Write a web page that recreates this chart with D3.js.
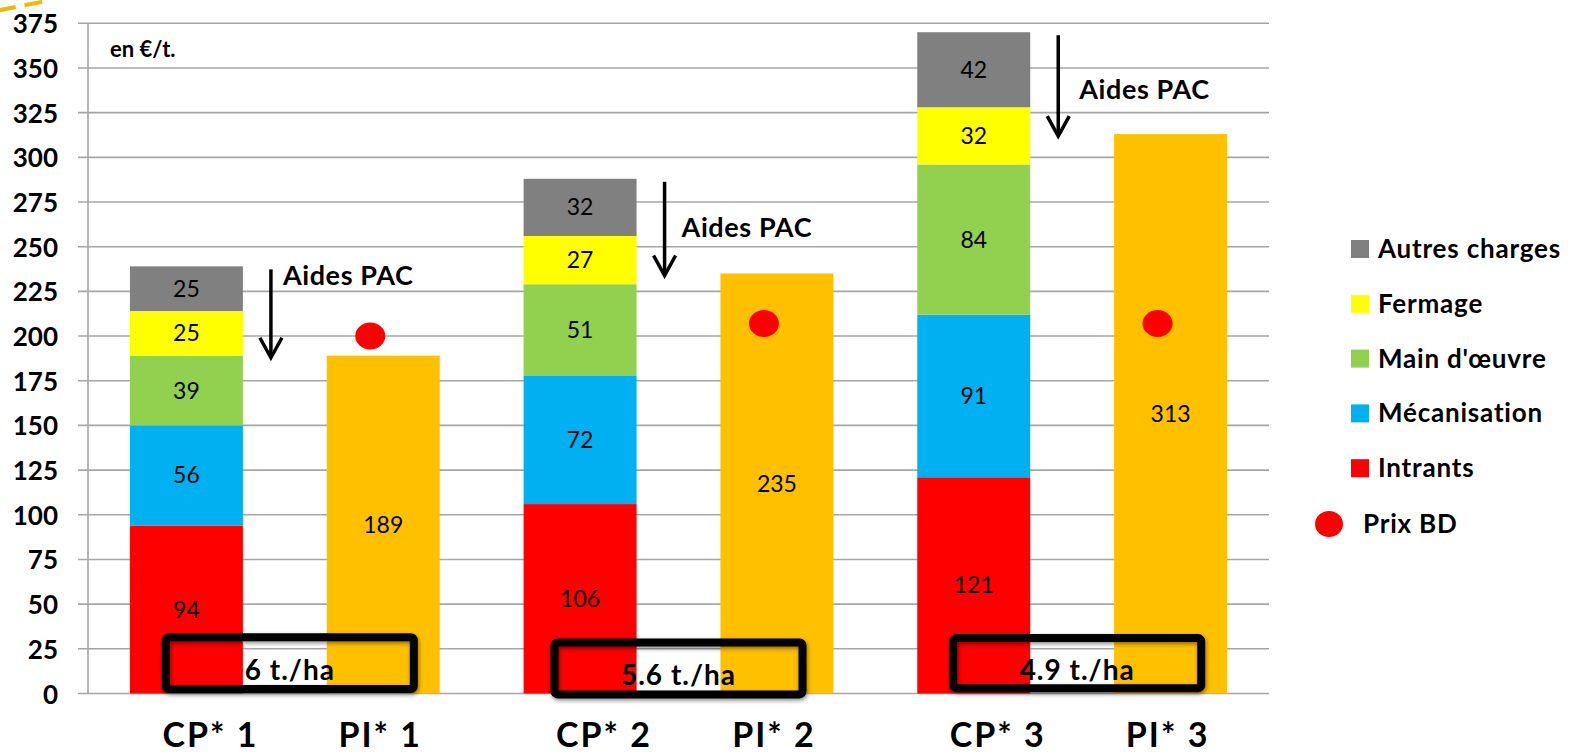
<!DOCTYPE html>
<html>
<head>
<meta charset="utf-8">
<script src="https://cdn.jsdelivr.net/npm/d3@7"></script>
<style>
  html, body { margin: 0; padding: 0; background: #fff; }
  svg { display: block; }
  text { font-family: Lato, "Open Sans", sans-serif; }
</style>
</head>
<body>
<svg id="chart" width="1577" height="755"></svg>
<script>
// ---------- data ----------
const categories = ["CP* 1", "PI* 1", "CP* 2", "PI* 2", "CP* 3", "PI* 3"];
const cpCategories = ["CP* 1", "CP* 2", "CP* 3"];
const piCategories = ["PI* 1", "PI* 2", "PI* 3"];
const seriesNames = ["Intrants", "Mécanisation", "Main d'œuvre", "Fermage", "Autres charges"];
const intrants     = [94, 106, 121];
const mecanisation = [56, 72, 91];
const mainOeuvre   = [39, 51, 84];
const fermage      = [25, 27, 32];
const autresCharges = [25, 32, 42];
const piValues     = [189, 235, 313];
const prixBD       = [200, 207, 207];
const yieldLabels  = ["6 t./ha", "5.6 t./ha", "4.9 t./ha"];
const yTicks       = [0, 25, 50, 75, 100, 125, 150, 175, 200, 225, 250, 275, 300, 325, 350, 375];
const unitLabel    = "en €/t.";
const aidesLabel   = "Aides PAC";
const prixLabel    = "Prix BD";

// ---------- style ----------
const colors = {
  "Intrants": "#ff0000",
  "Mécanisation": "#00b0f0",
  "Main d'œuvre": "#92d050",
  "Fermage": "#ffff00",
  "Autres charges": "#808080"
};
const piColor = "#ffc000";
const dotColor = "#ff0000";
const gridColor = "#a6a6a6";

const svg = d3.select("#chart");

const x = d3.scaleBand().domain(categories).range([88, 1269]).paddingInner(0.426).paddingOuter(0.213);
const y = d3.scaleLinear().domain([0, 375]).range([693.5, 23.3]);

// decorative dashed selection mark (top-left)
svg.append("path")
  .attr("d", "M-2,10.5 L44,1.5")
  .attr("stroke", "#f2b700").attr("stroke-width", 4)
  .attr("stroke-dasharray", "18,9").attr("fill", "none");

// gridlines
svg.append("g").selectAll("line").data(yTicks).join("line")
  .attr("x1", 78).attr("x2", 1269)
  .attr("y1", d => y(d)).attr("y2", d => y(d))
  .attr("stroke", gridColor).attr("stroke-width", 1.6);

// y axis line
svg.append("line").attr("x1", 88).attr("x2", 88).attr("y1", y(375)).attr("y2", y(0))
  .attr("stroke", gridColor).attr("stroke-width", 1.6);

// y tick labels
svg.append("g").selectAll("text").data(yTicks).join("text")
  .attr("x", 58).attr("y", d => y(d) + 10)
  .attr("text-anchor", "end")
  .attr("font-weight", "bold").attr("font-size", 26)
  .text(d => d);

// stacked data
const stackRows = cpCategories.map((c, i) => ({
  cat: c,
  "Intrants": intrants[i],
  "Mécanisation": mecanisation[i],
  "Main d'œuvre": mainOeuvre[i],
  "Fermage": fermage[i],
  "Autres charges": autresCharges[i]
}));
const stacked = d3.stack().keys(seriesNames)(stackRows);

const gBars = svg.append("g");
stacked.forEach(layer => {
  gBars.append("g").selectAll("rect").data(layer).join("rect")
    .attr("x", d => x(d.data.cat))
    .attr("width", x.bandwidth())
    .attr("y", d => y(d[1]))
    .attr("height", d => y(d[0]) - y(d[1]))
    .attr("fill", colors[layer.key]);
  gBars.append("g").selectAll("text").data(layer).join("text")
    .attr("x", d => x(d.data.cat) + x.bandwidth() / 2)
    .attr("y", d => (y(d[0]) + y(d[1])) / 2 + 8)
    .attr("text-anchor", "middle")
    .attr("font-size", 23)
    .attr("fill", "#000")
    .text(d => d[1] - d[0]);
});

// PI bars
const piRows = piCategories.map((c, i) => ({ cat: c, v: piValues[i], p: prixBD[i] }));
gBars.append("g").selectAll("rect").data(piRows).join("rect")
  .attr("x", d => x(d.cat)).attr("width", x.bandwidth())
  .attr("y", d => y(d.v)).attr("height", d => y(0) - y(d.v))
  .attr("fill", piColor);
gBars.append("g").selectAll("text").data(piRows).join("text")
  .attr("x", d => x(d.cat) + x.bandwidth() / 2)
  .attr("y", d => y(d.v / 2) + 8)
  .attr("text-anchor", "middle").attr("font-size", 23)
  .text(d => d.v);

// Prix BD dots
svg.append("g").selectAll("ellipse").data(piRows).join("ellipse")
  .attr("cx", d => x(d.cat) + x.bandwidth() / 2 - 13)
  .attr("cy", d => y(d.p))
  .attr("rx", 15).attr("ry", 13.5)
  .attr("fill", dotColor);

// Aides PAC arrows
const aidesLayout = [{ dx: 12, v: 228.5 }, { dx: 17, v: 255.5 }, { dx: 21, v: 332.5 }];
const arrows = cpCategories.map((c, i) => {
  const tot = intrants[i] + mecanisation[i] + mainOeuvre[i] + fermage[i] + autresCharges[i];
  return { x: x(c) + x.bandwidth() + 28, top: y(tot) + 3, bottom: y(piValues[i]) + 2, lay: aidesLayout[i] };
});
const gArr = svg.append("g");
arrows.forEach(a => {
  gArr.append("line").attr("x1", a.x).attr("x2", a.x).attr("y1", a.top).attr("y2", a.bottom - 1)
    .attr("stroke", "#000").attr("stroke-width", 3.5);
  gArr.append("path")
    .attr("d", `M${a.x - 11},${a.bottom - 20} L${a.x},${a.bottom} L${a.x + 11},${a.bottom - 20}`)
    .attr("fill", "none").attr("stroke", "#000").attr("stroke-width", 3.5);
  gArr.append("text").attr("x", a.x + a.lay.dx).attr("y", y(a.lay.v))
    .attr("font-weight", "bold").attr("font-size", 27).attr("letter-spacing", 0.6)
    .text(aidesLabel);
});

// yield boxes with shadow
const defs = svg.append("defs");
const f = defs.append("filter").attr("id", "shadow").attr("x", "-10%").attr("y", "-30%").attr("width", "120%").attr("height", "160%");
f.append("feDropShadow").attr("dx", 1).attr("dy", 2).attr("stdDeviation", 2.2).attr("flood-color", "#000").attr("flood-opacity", 0.45);

const boxLayout = [{ dx: 5, top: 31.5, bottom: 2.5 }, { dx: 0, top: 28.5, bottom: -0.5 }, { dx: 5, top: 31, bottom: 3 }];
const gBox = svg.append("g");
cpCategories.forEach((c, i) => {
  const mid = (x(c) + x(piCategories[i]) + x.bandwidth()) / 2 + boxLayout[i].dx;
  const yt = y(boxLayout[i].top), yb = y(boxLayout[i].bottom);
  gBox.append("rect")
    .attr("x", mid - 124).attr("width", 248)
    .attr("y", yt).attr("height", yb - yt)
    .attr("rx", 3)
    .attr("fill", "none").attr("stroke", "#000").attr("stroke-width", 8)
    .attr("filter", "url(#shadow)");
  gBox.append("text").attr("x", mid).attr("y", (yt + yb) / 2 + 17)
    .attr("text-anchor", "middle").attr("font-weight", "bold").attr("font-size", 28)
    .attr("letter-spacing", 1)
    .text(yieldLabels[i]);
});

// x labels
const xLabelShift = d => d.startsWith("CP") ? 24 : -3;
svg.append("g").selectAll("text").data(categories).join("text")
  .attr("x", d => x(d) + x.bandwidth() / 2 + xLabelShift(d))
  .attr("y", 747)
  .attr("text-anchor", "middle").attr("font-weight", "bold").attr("font-size", 34)
  .attr("letter-spacing", 2)
  .text(d => d);

// unit label
svg.append("text").attr("x", 110).attr("y", 57)
  .attr("font-weight", "bold").attr("font-size", 22).text(unitLabel);

// legend
const legendOrder = seriesNames.slice().reverse();
const gLeg = svg.append("g");
legendOrder.forEach((s, i) => {
  const cy = 249 + i * 54.8;
  gLeg.append("rect").attr("x", 1351).attr("y", cy - 9).attr("width", 18).attr("height", 18).attr("fill", colors[s]);
  gLeg.append("text").attr("x", 1378).attr("y", cy + 9)
    .attr("font-weight", "bold").attr("font-size", 26).attr("letter-spacing", 0.8).text(s);
});
gLeg.append("ellipse").attr("cx", 1329).attr("cy", 524).attr("rx", 14).attr("ry", 13).attr("fill", dotColor);
gLeg.append("text").attr("x", 1363).attr("y", 533)
  .attr("font-weight", "bold").attr("font-size", 26).attr("letter-spacing", 0.8).text(prixLabel);
</script>
</body>
</html>
